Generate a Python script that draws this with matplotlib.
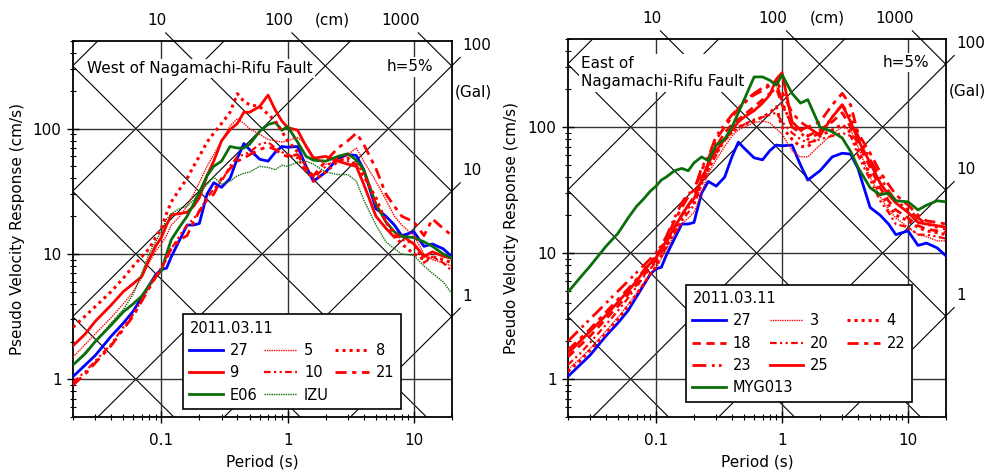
import numpy as np
import matplotlib
matplotlib.use("Agg")
import matplotlib.pyplot as plt
from matplotlib.lines import Line2D
from matplotlib.ticker import FixedLocator, FixedFormatter, NullFormatter

plt.rcParams['font.family'] = ['DejaVu Sans']

# periods (s)
period = [0.02, 0.025, 0.03, 0.04, 0.05, 0.06, 0.07, 0.08, 0.09,
          0.1, 0.11, 0.12, 0.14, 0.16, 0.18, 0.2, 0.23, 0.26, 0.3, 0.35,
          0.4, 0.45, 0.5, 0.6, 0.7, 0.8, 0.9, 1.0, 1.2, 1.4, 1.6, 2.0,
          2.5, 3.0, 3.5, 4.0, 5.0, 6.0, 7.0, 8.0, 10, 12, 14, 17, 20]

# pseudo velocity response (cm/s), h=5%
st27 = [1.05, 1.3, 1.55, 2.2, 2.8, 3.5, 4.5, 5.6, 6.8, 7.5, 7.7, 9.5, 13, 17, 17,
        17.5, 30, 37, 34, 40, 58, 76, 68, 57, 55, 65, 72, 71, 72, 50, 38, 45, 58,
        62, 61, 47, 23, 20, 17, 14, 15, 11.5, 12, 11, 9.5]

# west of the fault
w9 = [1.85, 2.3, 2.9, 3.9, 5.0, 5.8, 6.6, 9.0, 11.5, 13.5, 17, 20.5, 21, 21.5, 24,
      28, 42, 55, 80, 98, 110, 135, 135, 150, 185, 140, 115, 102, 97, 72, 58, 60,
      55, 52, 50, 36, 20, 16, 13.6, 14, 12, 9.5, 10.4, 9.6, 9.2]
wE06 = [1.3, 1.6, 2.0, 2.7, 3.45, 4.0, 4.6, 5.6, 6.6, 7.3, 10, 13, 16.5, 20, 25,
        31, 42, 50, 55, 72, 70, 70, 75, 95, 108, 112, 97, 104, 78, 60, 56, 55, 60,
        63, 56, 47, 25, 18, 15, 13.8, 13.5, 12.5, 11.5, 10, 9.2]
wIZU = [1.3, 1.65, 2.0, 2.8, 3.6, 4.8, 7.0, 10, 12.5, 15, 19, 21, 23, 24, 27,
        30, 36, 41, 36, 38, 42, 44, 45, 50, 49, 47, 51, 50, 54, 55, 52, 45, 43,
        43, 38, 27, 17, 12.5, 11, 10, 9.7, 8, 7, 6, 4.8]
w5 = [1.5, 1.9, 2.3, 3.1, 4.0, 5.0, 6.5, 8.5, 10.5, 12, 14, 17, 20, 24, 30,
      37, 50, 62, 80, 105, 120, 110, 100, 90, 82, 80, 78, 80, 85, 75, 60, 52, 55,
      62, 70, 55, 38, 27, 20, 17, 14, 10, 9, 8.5, 8]
w8 = [2.6, 3.2, 3.8, 5.0, 6.4, 8.0, 9.5, 11, 13.5, 16, 21, 26, 33, 40, 50,
      60, 78, 92, 110, 135, 190, 165, 155, 150, 130, 115, 95, 80, 65, 50, 38, 45,
      55, 58, 50, 42, 28, 18, 14, 12, 10, 9, 9.5, 9, 8.5]
w10 = [0.95, 1.15, 1.4, 1.9, 2.6, 3.3, 4.3, 5.4, 6.6, 7.8, 9, 11, 14, 17, 19,
       22, 28, 33, 38, 50, 60, 62, 65, 75, 78, 70, 65, 62, 58, 45, 40, 50, 58,
       55, 52, 45, 25, 18, 15, 13, 12, 8.5, 9.5, 8.5, 7.3]
w21 = [0.9, 1.1, 1.35, 1.85, 2.5, 3.2, 4.2, 5.3, 6.5, 7.6, 9.5, 11, 13, 14, 18,
       22, 27, 30, 40, 48, 55, 58, 62, 68, 72, 68, 62, 60, 62, 48, 42, 55, 70,
       80, 92, 75, 48, 30, 24, 20, 18, 14, 19, 16, 14]

# east of the fault
eMYG = [4.9, 6.4, 7.9, 11.3, 14.4, 19, 23.5, 27, 31, 34, 38, 40, 45, 47, 45,
        52, 58, 54, 72, 80, 100, 130, 165, 250, 250, 235, 215, 260, 185, 155, 165,
        100, 92, 82, 64, 48, 33, 29, 30, 26, 25.5, 22, 24, 26, 25.5]
e3 = [1.2, 1.45, 1.75, 2.4, 3.1, 3.9, 4.8, 5.8, 6.8, 7.6, 9, 10.6, 14, 17, 19,
      21, 30, 43, 55, 70, 85, 95, 100, 108, 112, 108, 97, 88, 65, 58, 58, 72, 88,
      100, 95, 70, 40, 28, 22, 19, 16, 14, 13.5, 12.5, 12.5]
e4 = [1.15, 1.4, 1.7, 2.3, 3.0, 3.8, 4.7, 5.7, 6.8, 7.8, 9.5, 11.5, 15, 19, 23,
      25, 36, 47, 62, 80, 92, 100, 105, 112, 120, 130, 145, 100, 80, 70, 70, 85,
      95, 105, 90, 65, 42, 30, 24, 20, 18, 16, 15, 14.5, 14]
e18 = [1.5, 1.85, 2.2, 3.0, 3.8, 4.7, 5.6, 6.7, 7.8, 8.8, 10, 12, 16, 20, 24,
       28, 40, 50, 70, 90, 105, 115, 125, 145, 165, 185, 205, 150, 105, 95, 85, 95,
       110, 130, 100, 75, 48, 33, 26, 22, 19, 16.5, 15.5, 15, 14.5]
e20 = [1.3, 1.6, 1.95, 2.7, 3.5, 4.4, 5.4, 6.5, 7.5, 8.5, 9.5, 11, 14.5, 18, 21,
       24, 35, 46, 60, 78, 90, 98, 105, 115, 120, 125, 130, 110, 90, 80, 75, 80,
       85, 90, 85, 60, 38, 26, 21, 17, 16, 14, 14, 13.5, 13]
e22 = [1.7, 2.1, 2.5, 3.4, 4.3, 5.2, 6.2, 7.3, 8.5, 9.5, 11, 13, 18, 23, 28,
       32, 46, 56, 80, 100, 120, 140, 155, 180, 195, 215, 235, 190, 130, 110, 100,
       110, 150, 185, 150, 90, 62, 44, 35, 29, 24, 20, 18, 17.5, 17]
e23 = [2.0, 2.5, 3.0, 4.0, 5.0, 6.0, 7.0, 8.0, 9.0, 10, 11.5, 13.4, 19, 25, 30,
       30, 48, 58, 85, 105, 125, 140, 160, 185, 205, 220, 225, 160, 100, 90, 80, 90,
       120, 150, 120, 85, 55, 40, 31, 26, 22, 19, 17, 16, 15.5]
e25 = [1.6, 2.0, 2.4, 3.2, 4.1, 5.0, 6.0, 7.2, 8.3, 9.2, 10.5, 12.5, 16, 20, 24,
       27, 38, 52, 65, 80, 95, 110, 120, 135, 155, 180, 240, 270, 110, 95, 100, 86,
       120, 150, 110, 80, 52, 36, 29, 25, 21, 17.5, 17, 16.5, 16]

RED = '#ff0000'
BLUE = '#0000ff'
GREEN = '#0a6e0a'

sty = {
    'solid': dict(ls='-', lw=2.0),
    'fine': dict(ls=(0, (1, 0.7)), lw=1.0),
    'dot': dict(ls=(0, (1, 1.3)), lw=2.2),
    'dash': dict(ls=(0, (3, 2)), lw=2.0),
    'ddot': dict(ls=(0, (3, 1.5, 1, 1.5, 1, 1.5)), lw=1.6),
    'dashdot': dict(ls=(0, (4, 2, 1.5, 2)), lw=2.0),
    'ldd': dict(ls=(0, (5, 2, 1, 1.5, 1, 2)), lw=2.0),
}

west = [('27', st27, BLUE, 'solid'), ('9', w9, RED, 'solid'), ('E06', wE06, GREEN, 'solid'),
        ('5', w5, RED, 'fine'), ('10', w10, RED, 'ddot'), ('IZU', wIZU, GREEN, 'fine'),
        ('8', w8, RED, 'dot'), ('21', w21, RED, 'dashdot')]
east = [('27', st27, BLUE, 'solid'), ('18', e18, RED, 'dash'), ('23', e23, RED, 'ldd'),
        ('3', e3, RED, 'fine'), ('20', e20, RED, 'ddot'), ('25', e25, RED, 'solid'),
        ('4', e4, RED, 'dot'), ('22', e22, RED, 'dashdot'), ('MYG013', eMYG, GREEN, 'solid')]

XMIN, XMAX, YMIN, YMAX = 0.02, 20, 0.5, 500
FS = 11


def tripartite(ax):
    T = np.array([0.005, 80.0])
    for sd in [0.001, 0.01, 0.1, 1, 10, 100, 1000, 10000]:
        ax.plot(T, 2 * np.pi * sd / T, color='k', lw=0.8, zorder=1)
    for pa in [0.1, 1, 10, 100, 1e3, 1e4, 1e5, 1e6]:
        ax.plot(T, pa * T / (2 * np.pi), color='k', lw=0.8, zorder=1)
    e = 10 ** 0.065
    # displacement labels on top
    for sd in [10, 100, 1000]:
        t0 = 2 * np.pi * sd / YMAX
        ax.plot([t0, t0 / e], [YMAX, YMAX * e], color='k', lw=0.8, clip_on=False)
        ax.text(t0 * 10 ** -0.055, YMAX * 10 ** 0.165, str(sd), ha='right', va='center',
                fontsize=FS)
    ax.text(2.27, YMAX * 10 ** 0.165, '(cm)', ha='center', va='center', fontsize=FS)
    # acceleration labels on the right
    for pa in [1, 10, 100]:
        v0 = pa * XMAX / (2 * np.pi)
        ax.plot([XMAX, XMAX * e], [v0, v0 * e], color='k', lw=0.8, clip_on=False)
        ax.text(XMAX * 10 ** 0.079, v0 * 10 ** 0.159, str(pa), ha='left', va='center',
                fontsize=FS)
    ax.text(29.4, 195, '(Gal)', ha='center', va='center', fontsize=FS)


def setup(ax):
    ax.set_xscale('log')
    ax.set_yscale('log')
    ax.set_xlim(XMIN, XMAX)
    ax.set_ylim(YMIN, YMAX)
    ax.xaxis.set_major_locator(FixedLocator([0.1, 1, 10]))
    ax.xaxis.set_major_formatter(FixedFormatter(['0.1', '1', '10']))
    ax.yaxis.set_major_locator(FixedLocator([1, 10, 100]))
    ax.yaxis.set_major_formatter(FixedFormatter(['1', '10', '100']))
    xm = [m * d for d in [0.01, 0.1, 1, 10] for m in range(2, 10)]
    ax.xaxis.set_minor_locator(FixedLocator(xm))
    ax.yaxis.set_minor_locator(FixedLocator([m * d for d in [0.1, 1, 10, 100] for m in range(2, 10)]))
    ax.xaxis.set_minor_formatter(NullFormatter())
    ax.yaxis.set_minor_formatter(NullFormatter())
    ax.tick_params(which='major', direction='inout', length=8.5, width=1.0, labelsize=FS)
    ax.tick_params(which='minor', direction='inout', length=4.5, width=0.8)
    ax.tick_params(axis='y', which='major', pad=4)
    ax.tick_params(axis='x', which='major', pad=7)
    ax.grid(which='major', color='#333333', lw=1.0)
    for s in ax.spines.values():
        s.set_linewidth(1.3)
    ax.set_xlabel('Period (s)', fontsize=FS)
    ax.set_ylabel('Pseudo Velocity Response (cm/s)', fontsize=FS)


fig = plt.figure(figsize=(9.92, 4.75), dpi=100)
axL = fig.add_axes([73 / 992, 58 / 475, 379 / 992, 376 / 475])
axR = fig.add_axes([568 / 992, 58 / 475, 378 / 992, 378 / 475])

boxw = dict(facecolor='white', edgecolor='none', pad=1.5)

for ax, curves in [(axL, west), (axR, east)]:
    tripartite(ax)
    for name, v, c, s in curves:
        ax.plot(period, v, color=c, zorder=3, **sty[s])
    setup(ax)

axL.xaxis.set_label_coords(0.5, -0.10)
axL.yaxis.set_label_coords(-0.127, 0.5)
axR.xaxis.set_label_coords(0.5, -0.10)
axR.yaxis.set_label_coords(-0.130, 0.5)

axL.text(0.037, 0.926, 'West of Nagamachi-Rifu Fault', transform=axL.transAxes,
         ha='left', va='center', fontsize=FS, bbox=boxw, zorder=4)
axL.text(0.95, 0.931, 'h=5%', transform=axL.transAxes, ha='right', va='center',
         fontsize=FS, bbox=boxw, zorder=4)
axR.text(0.034, 0.911, 'East of\nNagamachi-Rifu Fault', transform=axR.transAxes,
         ha='left', va='center', fontsize=FS, bbox=boxw, zorder=4, linespacing=1.3)
axR.text(0.955, 0.937, 'h=5%', transform=axR.transAxes, ha='right', va='center',
         fontsize=FS, bbox=boxw, zorder=4)


def handle(c, s):
    return Line2D([], [], color=c, **sty[s])


LFS = 10.5
legkw = dict(loc='lower left', ncol=3, fontsize=LFS, title_fontsize=LFS, alignment='left',
             frameon=True, fancybox=False, framealpha=1, edgecolor='k', borderaxespad=0,
             handlelength=2.3, handletextpad=0.45, columnspacing=0.45, labelspacing=0.5,
             borderpad=0.45)

legL = axL.legend([handle(c, s) for _, _, c, s in west], [n for n, _, _, _ in west],
                  title='2011.03.11', bbox_to_anchor=(0.29, 0.021), **legkw)
legL.get_frame().set_linewidth(1.2)

blank = Line2D([], [], color='none')
hs = [handle(c, s) for _, _, c, s in east[:8]]
ls = [n for n, _, _, _ in east[:8]]
hR = hs[0:3] + [blank] + hs[3:6] + [blank] + hs[6:8] + [blank, blank]
lR = ls[0:3] + [' '] + ls[3:6] + [' '] + ls[6:8] + [' ', ' ']
kwR = dict(legkw)
kwR.update(columnspacing=1.25)
legR = axR.legend(hR, lR, title='2011.03.11', bbox_to_anchor=(0.312, 0.04), **kwR)
legR.get_frame().set_linewidth(1.2)
axR.add_artist(legR)
kw2 = dict(legkw)
kw2.update(frameon=False, ncol=1)
legR2 = axR.legend([handle(GREEN, 'solid')], ['MYG013'], bbox_to_anchor=(0.312, 0.04), **kw2)

fig.savefig('out.png', dpi=100)
